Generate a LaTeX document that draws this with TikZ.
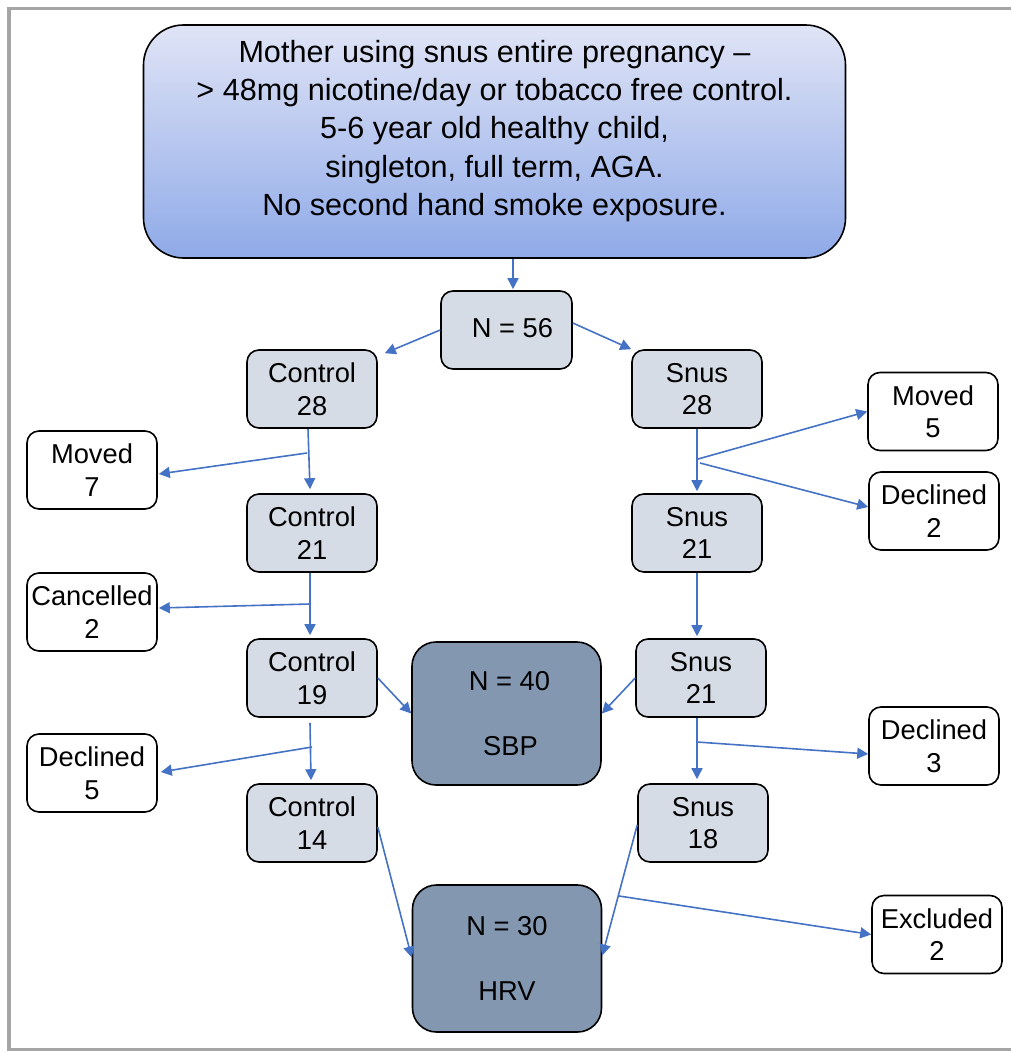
\documentclass[tikz,border=0pt]{standalone}
\usepackage{fontspec}
\setmainfont{Liberation Sans}
\usetikzlibrary{arrows.meta,calc}
\definecolor{arrowblue}{HTML}{4472C4}
\definecolor{boxgray}{HTML}{D6DCE5}
\definecolor{darkbox}{HTML}{8497B0}
\definecolor{frame}{HTML}{A5A5A5}
\definecolor{toptop}{HTML}{E0E4F6}
\definecolor{topbot}{HTML}{8FAAE8}
\tikzset{
  base/.style={draw=black, line width=1.6pt, rounded corners=12pt, align=center, inner sep=0pt,
    font=\fontsize{27.3}{32.5}\selectfont},
  groupbox/.style={base, fill=boxgray, minimum width=130pt, minimum height=78pt},
  outbox/.style={base, fill=white, minimum width=130pt, minimum height=78pt},
  resultbox/.style={base, fill=darkbox, rounded corners=24pt, minimum width=189pt},
  topbox/.style={base, rounded corners=40pt, top color=toptop, bottom color=topbot,
    minimum width=702pt, minimum height=233pt},
  toptext/.style={align=center, inner sep=0pt, font=\fontsize{30.6}{38.3}\selectfont},
  flow/.style={draw=arrowblue, line width=1.6pt, -{Triangle[length=11pt,width=11pt]}},
}
\begin{document}
\begin{tikzpicture}[x=1pt,y=-1pt]
\useasboundingbox (0,0) rectangle (1011,1051);
% frame
\draw[frame, line width=3.5pt] (1011,8.5) -- (9,8.5) -- (9,1049.5) -- (1011,1049.5);

% top box
\node[topbox] (top) at (494.5,141.5) {};
\node[toptext] (toptxt) at (494.5,131) {Mother using snus entire pregnancy --\\
> 48mg nicotine/day or tobacco free control.\\
5-6 year old healthy child,\\
singleton, full term, AGA.\\
No second hand smoke exposure.};

% N = 56
\node[groupbox, minimum width=131pt] (n56) at (506.5,330) {\hspace{12pt}\raisebox{5pt}{N = 56}};

% control column
\node[groupbox] (c28) at (312,389) {Control\\28};
\node[groupbox] (c21) at (312,533) {Control\\21};
\node[groupbox] (c19) at (312,678) {Control\\19};
\node[groupbox] (c14) at (312,823) {Control\\14};

% snus column
\node[groupbox] (s28) at (697,389) {Snus\\28};
\node[groupbox] (s21a) at (697,533) {Snus\\21};
\node[groupbox] (s21b) at (701,678) {Snus\\21};
\node[groupbox] (s18) at (703,823) {Snus\\18};

% left drop-outs
\node[outbox] (mv7) at (92,470) {Moved\\7};
\node[outbox] (ca2) at (92,612) {Cancelled\\2};
\node[outbox] (dc5) at (92,773) {Declined\\5};

% right drop-outs
\node[outbox] (mv5) at (933,411.5) {Moved\\5};
\node[outbox] (dc2) at (934,511) {Declined\\2};
\node[outbox] (dc3) at (934,746) {Declined\\3};
\node[outbox] (ex2) at (937,934.5) {Excluded\\2};

% results
\node[resultbox, minimum height=143pt] (sbp) at (506.5,713.5) {\hspace{6pt}N = 40\\[32pt]\hspace{8pt}SBP};
\node[resultbox, minimum height=147pt] (hrv) at (507,958.5) {N = 30\\[32pt]HRV};

% main arrows
\draw[flow] ($(top.south)+(18.5,0)$) -- ($(n56.north)+(6.5,-1)$);
\draw[flow] (n56.west) -- ($(c28.north east)+(7,4)$);
\draw[flow] ($(n56.east)+(0,-7)$) -- (s28.north west);

\draw[flow] ($(c28.south)+(-4,0)$) -- ($(c21.north)+(-2,-4)$);
\draw[flow] ($(c21.south)+(-2,0)$) -- ($(c19.north)+(-2,-3)$);
\draw[flow] ($(c19.south)+(-2,5)$) -- ($(c14.north)+(-1,-3)$);

\draw[flow] (s28.south) -- ($(s21a.north)+(0,-2)$);
\draw[flow] (s21a.south) -- ($(s21b.north)+(-4,-2)$);
\draw[flow] ($(s21b.south)+(-4,0)$) -- ($(s18.north)+(-6,-4)$);

\draw[flow] (c19.east) -- (sbp.west);
\draw[flow] (s21b.west) -- (sbp.east);
\draw[flow] ($(c14.east)+(0,4)$) -- ($(hrv.west)+(0,-1)$);
\draw[flow] ($(s18.west)+(0,2)$) -- ($(hrv.east)+(0,-3)$);

% branch points
\coordinate (b1) at (307,453);
\coordinate (b2) at (310,604);
\coordinate (b3) at (312,747);
\coordinate (b4) at (698,459);
\coordinate (b5) at (700,463);
\coordinate (b6) at (697,742);
\coordinate (b7) at (619,896);

\draw[flow] (b1) -- ($(mv7.east)+(1,4)$);
\draw[flow] (b2) -- ($(ca2.east)+(1,-4)$);
\draw[flow] (b3) -- ($(dc5.east)+(3,-1)$);
\draw[flow] (b4) -- (mv5.west);
\draw[flow] (b5) -- ($(dc2.west)+(0,-4)$);
\draw[flow] (b6) -- ($(dc3.west)+(0,8)$);
\draw[flow] (b7) -- (ex2.west);
\end{tikzpicture}
\end{document}
